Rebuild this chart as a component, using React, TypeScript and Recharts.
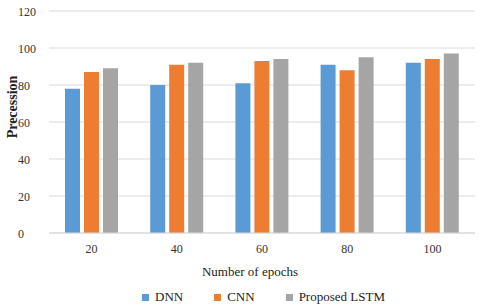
import React from "react";
import {
  BarChart,
  Bar,
  XAxis,
  YAxis,
  CartesianGrid,
  Legend,
  Label,
} from "recharts";

const epochs = ["20", "40", "60", "80", "100"];
const dnn = [78, 80, 81, 91, 92];
const cnn = [87, 91, 93, 88, 94];
const lstm = [89, 92, 94, 95, 97];
const yTicks = [0, 20, 40, 60, 80, 100, 120];

const series = [
  { key: "dnn", name: "DNN", color: "#5B9BD5" },
  { key: "cnn", name: "CNN", color: "#ED7D31" },
  { key: "lstm", name: "Proposed LSTM", color: "#A5A5A5" },
];

const data = epochs.map((e, i) => ({
  epoch: e,
  dnn: dnn[i],
  cnn: cnn[i],
  lstm: lstm[i],
}));

const FONT = "'Liberation Serif', 'Times New Roman', serif";

const YTick = (props: any) => {
  const { x, y, payload } = props;
  return (
    <text x={x - 23} y={y} dy={5} textAnchor="start" fill="#333" fontSize={12} fontFamily={FONT}>
      {payload.value}
    </text>
  );
};

const LegendBox = () => (
  <div
    style={{
      display: "flex",
      alignItems: "center",
      paddingLeft: 142,
      paddingTop: 6,
      fontFamily: FONT,
      fontSize: 13,
      color: "#222",
    }}
  >
    {series.map((s, i) => (
      <div
        key={s.key}
        style={{ display: "flex", alignItems: "center", marginLeft: i === 0 ? 0 : 31 }}
      >
        <span style={{ width: 7, height: 7, background: s.color, marginRight: 6, display: "inline-block" }} />
        <span>{s.name}</span>
      </div>
    ))}
  </div>
);

export default function App() {
  return (
    <div style={{ position: "absolute", left: 0, top: 0, width: 480, height: 307, background: "#fff" }}>
      <BarChart
        width={480}
        height={307}
        data={data}
        margin={{ top: 11, right: 5, left: 0, bottom: 0 }}
        barGap={4}
        barSize={15}
      >
        <CartesianGrid vertical={false} stroke="#D9D9D9" strokeWidth={1} />
        <XAxis
          dataKey="epoch"
          height={50}
          axisLine={{ stroke: "#D9D9D9" }}
          tickLine={false}
          tickSize={0}
          tickMargin={11}
          tick={{ fill: "#333", fontSize: 12, fontFamily: FONT }}
        >
          <Label
            value="Number of epochs"
            position="insideTop"
            offset={34}
            dx={-12}
            fill="#222"
            fontSize={13}
            fontFamily={FONT}
          />
        </XAxis>
        <YAxis
          width={49}
          domain={[0, 120]}
          ticks={yTicks}
          axisLine={false}
          tickLine={false}
          tick={<YTick />}
        >
          <Label
            content={(props: any) => {
              const vb = props.viewBox;
              const cx = vb.x + 12;
              const cy = vb.y + vb.height / 2 - 15;
              return (
                <text
                  x={cx}
                  y={cy}
                  transform={`rotate(-90, ${cx}, ${cy})`}
                  textAnchor="middle"
                  dominantBaseline="central"
                  fontWeight="bold"
                  fontSize={14}
                  fontFamily={FONT}
                  fill="#222"
                >
                  Precession
                </text>
              );
            }}
          />
        </YAxis>
        <Legend verticalAlign="bottom" height={24} content={<LegendBox />} />
        {series.map((s) => (
          <Bar
            key={s.key}
            dataKey={s.key}
            name={s.name}
            fill={s.color}
            isAnimationActive={false}
          />
        ))}
      </BarChart>
    </div>
  );
}
